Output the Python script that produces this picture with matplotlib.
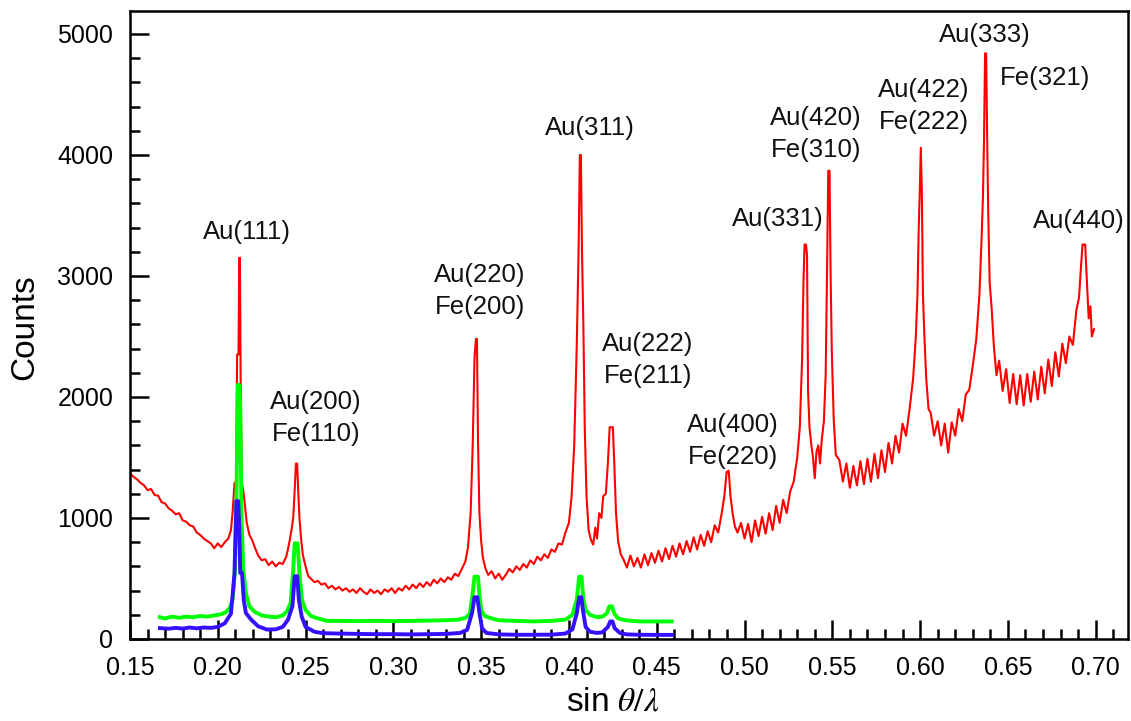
import numpy as np
import matplotlib
matplotlib.use("Agg")
import matplotlib.pyplot as plt
from matplotlib.ticker import MultipleLocator, FormatStrFormatter

plt.rcParams['font.family'] = ['Liberation Sans', 'DejaVu Sans']
plt.rcParams['mathtext.fontset'] = 'stix'

# red trace (segment by segment)
red_x = [
    # background 0.150 - 0.206
    0.150, 0.152, 0.154, 0.156, 0.158, 0.160, 0.162, 0.164, 0.166, 0.168,
    0.170, 0.172, 0.174, 0.176, 0.178, 0.180, 0.182, 0.184, 0.186, 0.188,
    0.190, 0.192, 0.194, 0.196, 0.198, 0.200, 0.202, 0.204, 0.206,
    # Au(111)
    0.2075, 0.2085, 0.2095, 0.2105, 0.2110, 0.2118, 0.2122, 0.2126, 0.2130, 0.2136,
    0.2145, 0.2155, 0.2165, 0.2180, 0.2195, 0.2210,
    # Au(200)
    0.223, 0.225, 0.227, 0.229, 0.231, 0.233, 0.235, 0.237, 0.239, 0.2405,
    0.2420, 0.2430, 0.2438, 0.2445, 0.2452, 0.2458, 0.2465, 0.2475, 0.2485, 0.2500, 0.2515,
    # background 0.253 - 0.341
    0.253, 0.255, 0.257, 0.259, 0.261, 0.263, 0.265, 0.267, 0.269, 0.271,
    0.273, 0.275, 0.277, 0.279, 0.281, 0.283, 0.285, 0.287, 0.289, 0.291,
    0.293, 0.295, 0.297, 0.299, 0.301, 0.303, 0.305, 0.307, 0.309, 0.311,
    0.313, 0.315, 0.317, 0.319, 0.321, 0.323, 0.325, 0.327, 0.329, 0.331,
    0.333, 0.335, 0.337, 0.339, 0.341,
    # Au(220)
    0.3425, 0.3440, 0.3452, 0.3462, 0.3470, 0.3476, 0.3482, 0.3490, 0.3500, 0.3510,
    0.3525, 0.3540,
    # background 0.356 - 0.400
    0.356, 0.358, 0.360, 0.362, 0.364, 0.366, 0.368, 0.370, 0.372, 0.374,
    0.376, 0.378, 0.380, 0.382, 0.384, 0.386, 0.388, 0.390, 0.392, 0.394,
    0.396, 0.398, 0.400,
    # Au(311), Au(222)
    0.4015, 0.4030, 0.4045, 0.4055, 0.4062, 0.4068, 0.4074, 0.4082, 0.4090, 0.4100,
    0.4112, 0.4125, 0.4138, 0.4150, 0.4160, 0.4172, 0.4185, 0.4195, 0.4210, 0.4222,
    0.4232, 0.4242, 0.4250, 0.4258, 0.4268, 0.4280, 0.4295,
    # background 0.431 - 0.487
    0.431, 0.433, 0.435, 0.437, 0.439, 0.441, 0.443, 0.445, 0.447, 0.449,
    0.451, 0.453, 0.455, 0.457, 0.459, 0.461, 0.463, 0.465, 0.467, 0.469,
    0.471, 0.473, 0.475, 0.477, 0.479, 0.481, 0.483, 0.485, 0.487,
    # Au(400)
    0.4885, 0.4898, 0.4910, 0.4920, 0.4932, 0.4945, 0.4960,
    # background 0.498 - 0.530
    0.498, 0.500, 0.502, 0.504, 0.506, 0.508, 0.510, 0.512, 0.514, 0.516,
    0.518, 0.520, 0.522, 0.524, 0.526, 0.528, 0.530,
    # Au(331), Au(420)
    0.5315, 0.5328, 0.5336, 0.5342, 0.5350, 0.5356, 0.5362, 0.5370, 0.5380, 0.5390,
    0.5400, 0.5410, 0.5420, 0.5430, 0.5440, 0.5452, 0.5462, 0.5470, 0.5477, 0.5484,
    0.5490, 0.5497, 0.5508, 0.5520,
    # background 0.554 - 0.594
    0.554, 0.556, 0.558, 0.560, 0.562, 0.564, 0.566, 0.568, 0.570, 0.572,
    0.574, 0.576, 0.578, 0.580, 0.582, 0.584, 0.586, 0.588, 0.590, 0.592,
    0.594,
    # Au(422)
    0.5960, 0.5975, 0.5985, 0.5992, 0.5998, 0.6004, 0.6010, 0.6016, 0.6025, 0.6035,
    0.6048,
    # background 0.606 - 0.632
    0.606, 0.608, 0.610, 0.612, 0.614, 0.616, 0.618, 0.620, 0.622, 0.624,
    0.626, 0.628, 0.630, 0.632,
    # Au(333)
    0.6338, 0.6350, 0.6358, 0.6364, 0.6370, 0.6376, 0.6382, 0.6388, 0.6396, 0.6408,
    0.6420, 0.6435,
    # background 0.645 - 0.687
    0.645, 0.647, 0.649, 0.651, 0.653, 0.655, 0.657, 0.659, 0.661, 0.663,
    0.665, 0.667, 0.669, 0.671, 0.673, 0.675, 0.677, 0.679, 0.681, 0.683,
    0.685, 0.687,
    # Au(440)
    0.6890, 0.6905, 0.6915, 0.6925, 0.6940, 0.6950, 0.6960, 0.6970, 0.6978, 0.6990,
]
red_y = [
    1370, 1340, 1320, 1290, 1270, 1230, 1240, 1190, 1185, 1130,
    1120, 1080, 1060, 1030, 1040, 980, 970, 940, 930, 880,
    860, 830, 810, 790, 750, 790, 760, 800, 830,
    900, 1060, 1290, 1300, 2350, 2350, 3150, 3150, 2200, 1290,
    1230, 1100, 960, 860, 820, 760,
    690, 650, 660, 610, 640, 600, 630, 620, 680, 780,
    900, 1010, 1230, 1450, 1450, 1230, 1000, 820, 690, 600, 520,
    500, 470, 480, 450, 460, 420, 440, 410, 430, 400,
    420, 390, 410, 380, 420, 390, 370, 410, 380, 400,
    370, 410, 390, 420, 380, 420, 400, 440, 410, 450,
    420, 460, 430, 470, 440, 490, 460, 500, 470, 510,
    490, 540, 520, 580, 640,
    760, 1040, 1610, 2320, 2480, 2480, 1640, 1040, 810, 670,
    580, 530,
    560, 500, 540, 490, 530, 580, 550, 600, 570, 620,
    590, 650, 620, 680, 650, 700, 670, 740, 720, 790,
    780, 880, 960,
    1180, 1600, 2460, 3230, 4000, 4000, 3230, 2600, 1750, 1180,
    900, 820, 780, 920, 830, 1040, 1000, 1180, 1200, 1460,
    1750, 1750, 1750, 1460, 1040, 810, 700,
    660, 590, 690, 600, 670, 590, 700, 610, 710, 630,
    730, 640, 750, 660, 770, 680, 790, 700, 810, 720,
    840, 740, 860, 770, 890, 800, 940, 880, 1040,
    1180, 1380, 1390, 1180, 1040, 930, 880,
    960, 830, 950, 800, 980, 850, 1010, 870, 1040, 900,
    1100, 960, 1150, 1040, 1220, 1300, 1500,
    1750, 2320, 2970, 3260, 3260, 3170, 2040, 1750, 1610, 1500,
    1330, 1550, 1600, 1450, 1650, 1800, 2180, 3040, 3870, 3870,
    3040, 2380, 1810, 1520,
    1480, 1300, 1450, 1250, 1430, 1270, 1470, 1280, 1490, 1300,
    1530, 1330, 1560, 1380, 1620, 1450, 1680, 1540, 1780, 1680,
    1900,
    2150, 2480, 2850, 3390, 3690, 4060, 3690, 2850, 2480, 2150,
    1900,
    1870, 1680, 1800, 1600, 1780, 1540, 1790, 1680, 1900, 1800,
    2020, 2060, 2260, 2480,
    2850, 3300, 3660, 4130, 4840, 4840, 4130, 3520, 2950, 2720,
    2420, 2180,
    2300, 2050, 2230, 1950, 2190, 1940, 2180, 1930, 2190, 1960,
    2210, 1980, 2250, 2030, 2310, 2090, 2370, 2170, 2440, 2280,
    2500, 2430,
    2720, 2820, 3050, 3260, 3260, 2950, 2650, 2750, 2500, 2560,
]

green_x = [
    0.167, 0.170, 0.174, 0.178, 0.182, 0.186, 0.190, 0.194, 0.198, 0.202,
    0.2045, 0.207, 0.2085, 0.2098, 0.2106, 0.2114, 0.2122, 0.2128, 0.2135, 0.2145,
    0.2160, 0.218, 0.221, 0.225, 0.229, 0.233, 0.237, 0.2395, 0.2415, 0.2428,
    0.2438, 0.2455, 0.2465, 0.2480, 0.2500, 0.2530, 0.257, 0.262, 0.270, 0.280,
    0.290, 0.300, 0.310, 0.320, 0.330, 0.337, 0.341, 0.3435, 0.3452, 0.3462,
    0.3482, 0.3490, 0.3500, 0.352, 0.356, 0.360, 0.370, 0.380, 0.390, 0.398,
    0.402, 0.4045, 0.4058, 0.4072, 0.4082, 0.4095, 0.412, 0.416, 0.419, 0.4215,
    0.4230, 0.4245, 0.4258, 0.428, 0.432, 0.440, 0.450, 0.4585,
]
green_y = [
    180, 170, 185, 175, 185, 180, 190, 185, 195, 205,
    220, 260, 330, 570, 1150, 2100, 2100, 1950, 1000, 570,
    380, 270, 225, 195, 185, 180, 195, 230, 300, 540,
    790, 790, 540, 320, 240, 190, 170, 150, 150, 148,
    150, 148, 150, 152, 155, 160, 175, 205, 380, 515,
    515, 365, 240, 190, 170, 155, 150, 145, 150, 160,
    200, 330, 515, 515, 330, 240, 200, 180, 185, 210,
    270, 270, 210, 170, 155, 145, 145, 145,
]

blue_x = [
    0.167, 0.172, 0.176, 0.180, 0.184, 0.188, 0.192, 0.196, 0.200, 0.204,
    0.2075, 0.2095, 0.2106, 0.2116, 0.2122, 0.2128, 0.2138, 0.2148, 0.216, 0.219,
    0.223, 0.228, 0.233, 0.237, 0.240, 0.2425, 0.2438, 0.2452, 0.2462, 0.2478,
    0.250, 0.255, 0.260, 0.270, 0.280, 0.290, 0.300, 0.310, 0.320, 0.330,
    0.338, 0.342, 0.3448, 0.3462, 0.3478, 0.3490, 0.3505, 0.353, 0.360, 0.370,
    0.380, 0.390, 0.398, 0.402, 0.4045, 0.4058, 0.4070, 0.4082, 0.4095, 0.412,
    0.416, 0.419, 0.4222, 0.4235, 0.4248, 0.426, 0.429, 0.433, 0.440, 0.450,
    0.4585,
]
blue_y = [
    90, 85, 92, 86, 95, 88, 95, 92, 100, 130,
    210, 540, 1140, 1140, 930, 545, 545, 320, 215, 160,
    105, 78, 80, 100, 160, 270, 520, 520, 320, 185,
    100, 60, 48, 45, 42, 40, 40, 38, 40, 42,
    50, 75, 215, 345, 345, 215, 88, 50, 38, 35,
    35, 36, 45, 80, 215, 345, 345, 215, 100, 60,
    50, 55, 100, 145, 145, 90, 50, 38, 35, 34,
    34,
]

# peak labels: text, x, y (centre of the text block)
peak_labels = ["Au(111)", "Au(200)\nFe(110)", "Au(220)\nFe(200)", "Au(311)",
               "Au(222)\nFe(211)", "Au(400)\nFe(220)", "Au(331)", "Au(420)\nFe(310)",
               "Au(422)\nFe(222)", "Au(333)", "Fe(321)", "Au(440)"]
label_x = [0.2166, 0.2559, 0.3493, 0.4120, 0.4450, 0.4934, 0.5190, 0.5407,
           0.6022, 0.6369, 0.6711, 0.6904]
label_y = [3364, 1826, 2876, 4223, 2306, 1636, 3471, 4174, 4405, 4992, 4636, 3455]

fig = plt.figure(figsize=(11.31, 7.21), dpi=100)
ax = fig.add_axes([130 / 1131, 1 - 639 / 721, 998 / 1131, 628 / 721])

ax.plot(red_x, red_y, color='#ff0000', lw=1.5)
ax.plot(green_x, green_y, color='#00ff00', lw=2.8)
ax.plot(blue_x, blue_y, color='#3311ff', lw=2.8)

for txt, lx, ly in zip(peak_labels, label_x, label_y):
    ax.text(lx, ly, txt, ha='center', va='center', fontsize=18.5,
            linespacing=1.45, color='#111111')

ax.set_xlim(0.15, 0.7184)
ax.set_ylim(0, 5190)
ax.xaxis.set_major_locator(MultipleLocator(0.05))
ax.xaxis.set_minor_locator(MultipleLocator(0.01))
ax.xaxis.set_major_formatter(FormatStrFormatter('%.2f'))
ax.yaxis.set_major_locator(MultipleLocator(1000))
ax.yaxis.set_minor_locator(MultipleLocator(200))

ax.tick_params(which='major', direction='in', length=14, width=1.8,
               labelsize=18, pad=12, top=False, right=False)
ax.tick_params(which='minor', direction='in', length=7, width=1.8,
               top=False, right=False)
for sp in ax.spines.values():
    sp.set_linewidth(1.8)

ax.set_xlabel(r'sin $\theta/\lambda$', fontsize=24, va='center')
ax.xaxis.set_label_coords(0.484, -0.100)
ax.set_ylabel('Counts', fontsize=24, va='center')
ax.yaxis.set_label_coords(-0.105, 0.497)

fig.savefig('out.png', dpi=100)
